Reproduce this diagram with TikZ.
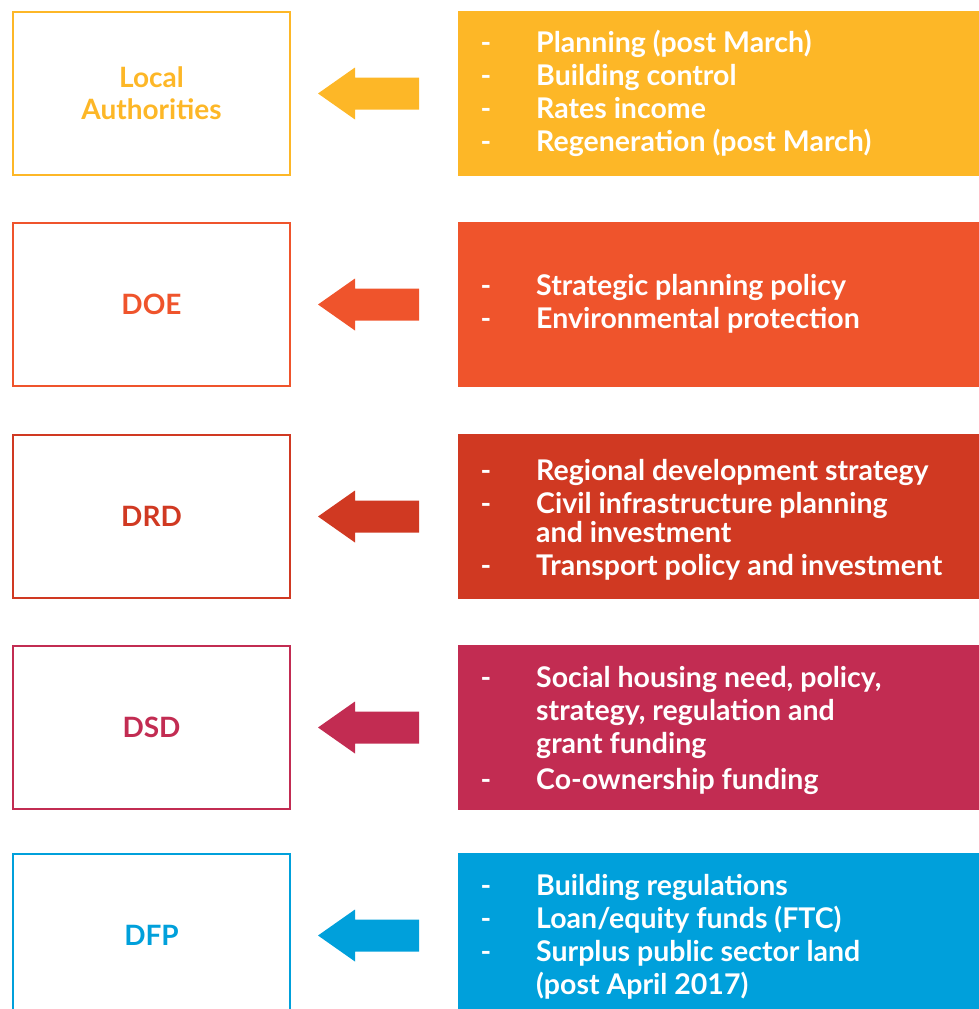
\documentclass[tikz,border=0pt]{standalone}
\usepackage{fontspec}
\setmainfont{Lato}
\definecolor{cYel}{RGB}{253,183,39}
\definecolor{cOra}{RGB}{239,84,44}
\definecolor{cRed}{RGB}{208,57,34}
\definecolor{cCri}{RGB}{194,44,82}
\definecolor{cBlu}{RGB}{0,160,219}
\tikzset{
  x=1pt, y=-1pt,
  leftbox/.style={draw=#1, line width=2.5pt, minimum width=277pt, minimum height=163pt, inner sep=0pt,
    text=#1, font=\fontsize{28}{32}\selectfont\bfseries, align=center},
  rightbox/.style={fill=#1, draw=none, minimum width=521pt, minimum height=165pt, inner sep=0pt, anchor=north west},
  itm/.style={text=white, anchor=base west, inner sep=0pt, font=\fontsize{28.5}{32}\selectfont\bfseries},
  dsh/.style={text=white, anchor=base, inner sep=0pt, font=\fontsize{28.5}{32}\selectfont\bfseries},
}
\newcommand{\blockarrow}[2]{% color, center y
  \fill[#1] (318,#2) -- (355,#2-26) -- (355,#2-16) -- (419,#2-16) -- (419,#2+16) -- (355,#2+16) -- (355,#2+26) -- cycle;}
\begin{document}
\begin{tikzpicture}
\useasboundingbox (0,0) rectangle (979,1009);
\clip (0,0) rectangle (979,1009);
% Row 1
\node[rightbox=cYel] (r1) at (458,11) {};
\node[leftbox=cYel] (l1) at (151.5,93.5) {Local\\Authorities};
\blockarrow{cYel}{93.5}
\node[dsh] (d1a) at (486,52) {-}; \node[itm] (t1a) at (536,52) {Planning (post March)};
\node[dsh] (d1b) at (486,85) {-}; \node[itm] (t1b) at (536,85) {Building control};
\node[dsh] (d1c) at (486,118) {-}; \node[itm] (t1c) at (536,118) {Rates income};
\node[dsh] (d1d) at (486,151) {-}; \node[itm] (t1d) at (536,151) {Regeneration (post March)};
% Row 2
\node[rightbox=cOra] (r2) at (458,222) {};
\node[leftbox=cOra] (l2) at (151.5,304.5) {DOE};
\blockarrow{cOra}{304.5}
\node[dsh] (d2a) at (486,295) {-}; \node[itm] (t2a) at (536,295) {Strategic planning policy};
\node[dsh] (d2b) at (486,328) {-}; \node[itm] (t2b) at (536,328) {Environmental protection};
% Row 3
\node[rightbox=cRed] (r3) at (458,434) {};
\node[leftbox=cRed] (l3) at (151.5,516.5) {DRD};
\blockarrow{cRed}{516.5}
\node[dsh] (d3a) at (486,480) {-}; \node[itm] (t3a) at (536,480) {Regional development strategy};
\node[dsh] (d3b) at (486,513) {-}; \node[itm] (t3b) at (536,513) {Civil infrastructure planning};
\node[itm] (t3c) at (536,542) {and investment};
\node[dsh] (d3d) at (486,575) {-}; \node[itm] (t3d) at (536,575) {Transport policy and investment};
% Row 4
\node[rightbox=cCri] (r4) at (458,645) {};
\node[leftbox=cCri] (l4) at (151.5,727.5) {DSD};
\blockarrow{cCri}{727.5}
\node[dsh] (d4a) at (486,687) {-}; \node[itm] (t4a) at (536,687) {Social housing need, policy,};
\node[itm] (t4b) at (536,720) {strategy, regulation and};
\node[itm] (t4c) at (536,753) {grant funding};
\node[dsh] (d4d) at (486,789) {-}; \node[itm] (t4d) at (536,789) {Co-ownership funding};
% Row 5
\node[rightbox=cBlu] (r5) at (458,853) {};
\node[leftbox=cBlu] (l5) at (151.5,935.5) {DFP};
\blockarrow{cBlu}{935.5}
\node[dsh] (d5a) at (486,895) {-}; \node[itm] (t5a) at (536,895) {Building regulations};
\node[dsh] (d5b) at (486,928) {-}; \node[itm] (t5b) at (536,928) {Loan/equity funds (FTC)};
\node[dsh] (d5c) at (486,961) {-}; \node[itm] (t5c) at (536,961) {Surplus public sector land};
\node[itm] (t5d) at (536,994) {(post April 2017)};
\end{tikzpicture}
\end{document}
